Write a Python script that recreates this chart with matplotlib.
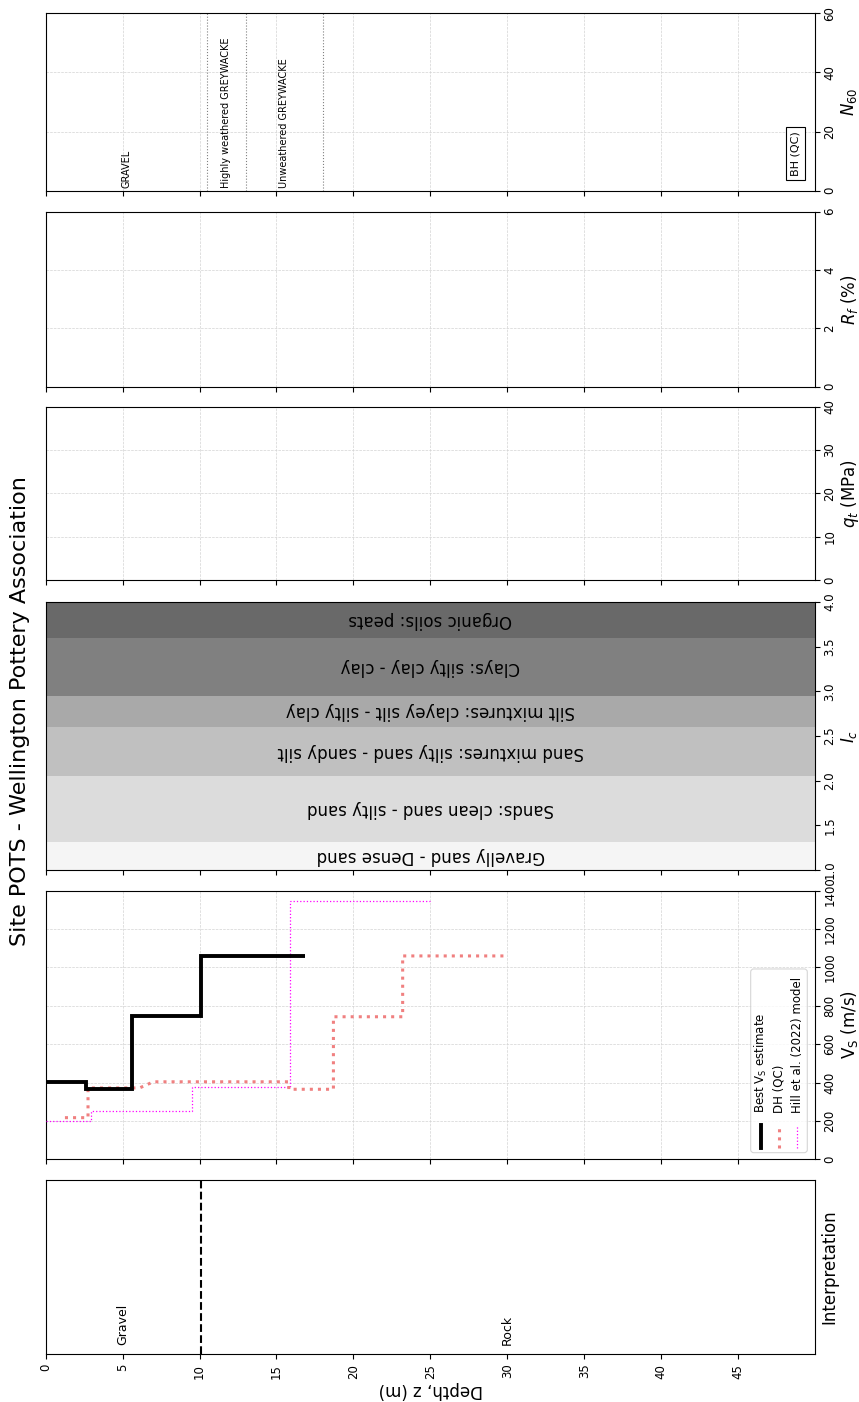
import numpy as np
import matplotlib
matplotlib.use("Agg")
import matplotlib.pyplot as plt
from matplotlib.lines import Line2D
from matplotlib.patches import FancyBboxPatch

# site
site_title = "Site POTS - Wellington Pottery Association"
depth_ticks = [0, 5, 10, 15, 20, 25, 30, 35, 40, 45]
depth_max = 50

# Vs profiles (depth in m, Vs in m/s)
best_depth = [0.0, 2.65, 5.6, 10.1, 16.85]
best_vs = [405, 365, 745, 1060]

dh_top = [1.25, 2.75, 7.0, 15.8, 18.7, 23.2]
dh_bot = [2.75, 6.1, 15.8, 18.7, 23.2, 29.9]
dh_vs = [217, 372, 404, 365, 743, 1060]

hill_depth = [0.0, 2.95, 9.5, 15.9, 25.0]
hill_vs = [200, 252, 375, 1345]

# interpretation
interp_boundary = 10.1
interp_names = ["Gravel", "Rock"]
interp_mid = [5, 30]

# Ic soil behaviour zones
ic_bounds = [1.0, 1.31, 2.05, 2.60, 2.95, 3.60, 4.0]
ic_names = ["Gravelly sand - Dense sand", "Sands: clean sand - silty sand",
            "Sand mixtures: silty sand - sandy silt", "Silt mixtures: clayey silt - silty clay",
            "Clays: silty clay - clay", "Organic soils: peats"]
ic_colours = ["whitesmoke", "gainsboro", "silver", "darkgray", "gray", "dimgray"]

# borehole log
bh_names = ["GRAVEL", "Highly weathered GREYWACKE", "Unweathered GREYWACKE"]
bh_top = [0.0, 10.5, 13.0]
bh_bot = [10.5, 13.0, 18.0]

W, H = 859, 1402
fig = plt.figure(figsize=(W / 100, H / 100), dpi=100)


def strip(top, bottom):
    ax = fig.add_axes([45.7 / W, 1 - bottom / H, (815 - 45.7) / W, (bottom - top) / H])
    ax.set_xlim(0, depth_max)
    ax.set_xticks(depth_ticks)
    ax.tick_params(axis="x", labelbottom=False)
    ax.yaxis.tick_right()
    ax.yaxis.set_label_position("right")
    return ax


def prop_axis(ax, lim, ticks, label, fmt="{:g}"):
    ax.set_ylim(*lim)
    ax.set_yticks(ticks)
    ax.set_yticklabels([fmt.format(t) for t in ticks], rotation=90, va="center", fontsize=8.5)
    ax.tick_params(axis="y", pad=2.5)
    ax.set_ylabel(label, fontsize=12, labelpad=2)
    ax.grid(True, ls="--", lw=0.5, color="lightgray")
    ax.set_axisbelow(True)


ax_n = strip(13.3, 190.7)
ax_rf = strip(211.7, 386.7)
ax_qt = strip(406.7, 580.0)
ax_ic = strip(602.0, 870.0)
ax_vs = strip(890.7, 1159.3)
ax_in = strip(1180.0, 1354.0)

# N60 / borehole
prop_axis(ax_n, (0, 60), [0, 20, 40, 60], "$N_{60}$")
for name, t, b in zip(bh_names, bh_top, bh_bot):
    ax_n.axvline(b, color="gray", ls=":", lw=0.8)
    ax_n.text((t + b) / 2, 1, name, rotation=90, ha="center", va="bottom", fontsize=7)
ax_n.text(0.975, 0.21, "BH (QC)", transform=ax_n.transAxes, rotation=90, ha="center",
          va="center", fontsize=8, bbox=dict(boxstyle="square,pad=0.4", fc="white", ec="black", lw=0.8))

prop_axis(ax_rf, (0, 6), [0, 2, 4, 6], "$R_f$ (%)")
prop_axis(ax_qt, (0, 40), [0, 10, 20, 30, 40], "$q_t$ (MPa)")

# Ic zones
prop_axis(ax_ic, (1, 4), [1.0, 1.5, 2.0, 2.5, 3.0, 3.5, 4.0], "$I_c$", "{:.1f}")
for i, name in enumerate(ic_names):
    lo, hi = ic_bounds[i], ic_bounds[i + 1]
    ax_ic.axhspan(lo, hi, color=ic_colours[i], lw=0, zorder=1)
    ax_ic.text(25, (lo + hi) / 2, name, rotation=180, ha="center", va="center", fontsize=12, zorder=2)

# Vs
prop_axis(ax_vs, (0, 1400), list(range(0, 1401, 200)), "V$_\\mathrm{S}$ (m/s)")
ax_vs.stairs(hill_vs, hill_depth, baseline=None, color="magenta", ls=":", lw=0.9, zorder=3)
dh_x, dh_y = [], []
for t, b, v in zip(dh_top, dh_bot, dh_vs):
    dh_x += [t, b]
    dh_y += [v, v]
ax_vs.plot(dh_x, dh_y, color="lightcoral", ls=":", lw=2.2, zorder=4)
ax_vs.stairs(best_vs, best_depth, baseline=None, color="black", lw=2.8, zorder=5)

# legend drawn sideways
tr = ax_vs.transAxes
box = FancyBboxPatch((0.9164, 0.0246), 0.0736, 0.684, transform=tr,
                     boxstyle="round,pad=0,rounding_size=0.004", mutation_aspect=769.3 / 268.6,
                     fc="white", ec="0.8", lw=0.8, alpha=0.8, zorder=6)
ax_vs.add_patch(box)
leg_x = [0.9298, 0.9536, 0.977]
leg_lbl = ["Best V$_\\mathrm{S}$ estimate", "DH (QC)", "Hill et al. (2022) model"]
leg_sty = [dict(color="black", lw=2.8), dict(color="lightcoral", ls=":", lw=2.2),
           dict(color="magenta", ls=":", lw=0.9)]
for x, lbl, sty in zip(leg_x, leg_lbl, leg_sty):
    ax_vs.add_line(Line2D([x, x], [0.041, 0.1277], transform=tr, zorder=7, **sty))
    ax_vs.text(x, 0.1713, lbl, transform=tr, rotation=90, ha="center", va="bottom",
               fontsize=8.5, zorder=7)

# interpretation
ax_in.set_yticks([])
ax_in.set_ylim(0, 1)
ax_in.set_ylabel("Interpretation", fontsize=12)
ax_in.axvline(interp_boundary, color="black", ls="--", lw=1.5)
for name, d in zip(interp_names, interp_mid):
    ax_in.text(d, 0.05, name, rotation=90, ha="center", va="bottom", fontsize=9)
ax_in.tick_params(axis="x", labelbottom=True, labelrotation=90, labelsize=8.5)
ax_in.set_xlabel("Depth, z (m)", fontsize=12, rotation=180, labelpad=2)

fig.text(20 / W, 1 - 710.8 / H, site_title, rotation=90, ha="center", va="center", fontsize=16)

fig.savefig("out.png", dpi=100)
